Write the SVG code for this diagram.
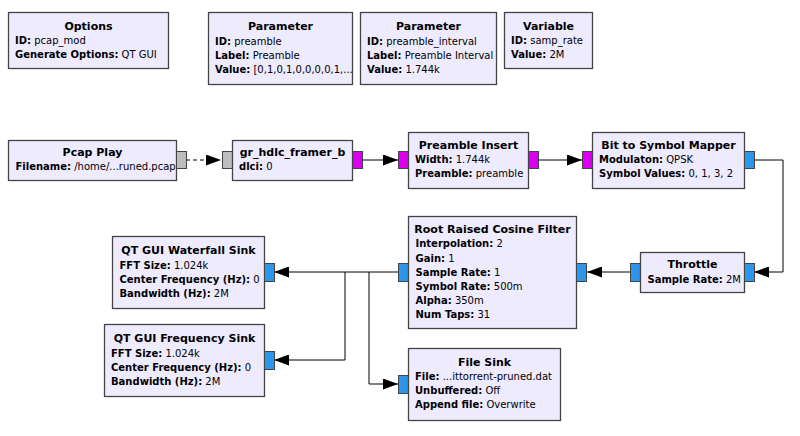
<svg xmlns="http://www.w3.org/2000/svg" width="800" height="436" viewBox="0 0 800 436">
<defs>
<style>
.blk{fill:#eeebff;stroke:#444;stroke-width:1.3}
.pm{stroke:#444;stroke-width:1}
.gray{fill:#bdbdbd}
.mag{fill:#dd00ee}
.blue{fill:#2d95ea}
text{font-family:"DejaVu Sans","Liberation Sans",sans-serif;font-size:10px;fill:#000}
.t{font-weight:bold;text-anchor:middle;font-size:11px}
.k{font-weight:bold}
.c{fill:none;stroke:#000;stroke-width:1}
.d{stroke-dasharray:4 3}
</style>
<marker id="ah" markerUnits="userSpaceOnUse" viewBox="0 0 15 11" refX="15" refY="5.5" markerWidth="15" markerHeight="11" orient="auto">
<path d="M0,0 L15,5.5 L0,11 z" fill="#000"/>
</marker>
</defs>
<rect width="800" height="436" fill="#fff"/>

<g id="connectors">
<path class="c d" d="M186,160 H221" marker-end="url(#ah)"/>
<path class="c" d="M362,160 H398" marker-end="url(#ah)"/>
<path class="c" d="M538,160 H582" marker-end="url(#ah)"/>
<path class="c" d="M754,160 H783 V272 H754" marker-end="url(#ah)"/>
<path class="c" d="M630,272 H587" marker-end="url(#ah)"/>
<path class="c" d="M398,272 H274" marker-end="url(#ah)"/>
<path class="c" d="M345,272 V360 H274" marker-end="url(#ah)"/>
<path class="c" d="M369,272 V384 H398" marker-end="url(#ah)"/>
</g>

<g id="options">
<rect class="blk" x="8.5" y="12.5" width="160" height="56"/>
<text class="t" x="88.5" y="29.5">Options</text>
<text x="15" y="44"><tspan class="k">ID:</tspan> pcap_mod</text>
<text x="15" y="58"><tspan class="k">Generate Options:</tspan> QT GUI</text>
</g>

<g id="param_preamble">
<rect class="blk" x="208.5" y="12.5" width="144" height="72"/>
<text class="t" x="280.5" y="30">Parameter</text>
<text x="215" y="45"><tspan class="k">ID:</tspan> preamble</text>
<text x="215" y="59"><tspan class="k">Label:</tspan> Preamble</text>
<text x="215" y="73"><tspan class="k">Value:</tspan> [0,1,0,1,0,0,0,0,1,...</text>
</g>

<g id="param_preamble_interval">
<rect class="blk" x="360.5" y="12.5" width="136" height="72"/>
<text class="t" x="428.5" y="30">Parameter</text>
<text x="367" y="45"><tspan class="k">ID:</tspan> preamble_interval</text>
<text x="367" y="59"><tspan class="k">Label:</tspan> Preamble Interval</text>
<text x="367" y="73"><tspan class="k">Value:</tspan> 1.744k</text>
</g>

<g id="variable_samp_rate">
<rect class="blk" x="504.5" y="12.5" width="88" height="56"/>
<text class="t" x="548.5" y="29.5">Variable</text>
<text x="511" y="44"><tspan class="k">ID:</tspan> samp_rate</text>
<text x="511" y="58"><tspan class="k">Value:</tspan> 2M</text>
</g>

<g id="pcap_play">
<rect class="blk" x="8.5" y="140.5" width="168" height="40"/>
<rect class="pm gray" x="176.5" y="151.5" width="10" height="17"/>
<text class="t" x="92.5" y="155.5">Pcap Play</text>
<text x="15.5" y="170"><tspan class="k">Filename:</tspan> /home/...runed.pcap</text>
</g>

<g id="gr_hdlc_framer_b">
<rect class="pm gray" x="222.5" y="151.5" width="10" height="17"/>
<rect class="blk" x="232.5" y="140.5" width="120" height="40"/>
<rect class="pm mag" x="352.5" y="151.5" width="10" height="17"/>
<text class="t" x="292.5" y="155.5">gr_hdlc_framer_b</text>
<text x="239" y="170"><tspan class="k">dlci:</tspan> 0</text>
</g>

<g id="preamble_insert">
<rect class="pm mag" x="398.5" y="151.5" width="10" height="17"/>
<rect class="blk" x="408.5" y="132.5" width="120" height="56"/>
<rect class="pm mag" x="528.5" y="151.5" width="10" height="17"/>
<text class="t" x="468.5" y="149">Preamble Insert</text>
<text x="415" y="163"><tspan class="k">Width:</tspan> 1.744k</text>
<text x="415" y="177"><tspan class="k">Preamble:</tspan> preamble</text>
</g>

<g id="bit_to_symbol_mapper">
<rect class="pm mag" x="582.5" y="151.5" width="10" height="17"/>
<rect class="blk" x="592.5" y="132.5" width="152" height="56"/>
<rect class="pm blue" x="744.5" y="151.5" width="10" height="17"/>
<text class="t" x="668.5" y="149">Bit to Symbol Mapper</text>
<text x="599" y="163"><tspan class="k">Modulaton:</tspan> QPSK</text>
<text x="599" y="177"><tspan class="k">Symbol Values:</tspan> 0, 1, 3, 2</text>
</g>

<g id="throttle">
<rect class="pm blue" x="630.5" y="263.5" width="10" height="18"/>
<rect class="blk" x="640.5" y="252.5" width="104" height="40"/>
<rect class="pm blue" x="744.5" y="263.5" width="10" height="18"/>
<text class="t" x="692.5" y="267.5">Throttle</text>
<text x="647.5" y="282.5"><tspan class="k">Sample Rate:</tspan> 2M</text>
</g>

<g id="root_raised_cosine_filter">
<rect class="pm blue" x="398.5" y="263.5" width="10" height="18"/>
<rect class="blk" x="408.5" y="216.5" width="168" height="112"/>
<rect class="pm blue" x="576.5" y="263.5" width="10" height="18"/>
<text class="t" x="492.5" y="232.5">Root Raised Cosine Filter</text>
<text x="415.5" y="247"><tspan class="k">Interpolation:</tspan> 2</text>
<text x="415.5" y="261.5"><tspan class="k">Gain:</tspan> 1</text>
<text x="415.5" y="275.5"><tspan class="k">Sample Rate:</tspan> 1</text>
<text x="415.5" y="289.5"><tspan class="k">Symbol Rate:</tspan> 500m</text>
<text x="415.5" y="303.5"><tspan class="k">Alpha:</tspan> 350m</text>
<text x="415.5" y="317.5"><tspan class="k">Num Taps:</tspan> 31</text>
</g>

<g id="qt_gui_waterfall_sink">
<rect class="blk" x="112.5" y="236.5" width="152" height="72"/>
<rect class="pm blue" x="264.5" y="263.5" width="10" height="18"/>
<text class="t" x="188.5" y="254">QT GUI Waterfall Sink</text>
<text x="119.5" y="268.5"><tspan class="k">FFT Size:</tspan> 1.024k</text>
<text x="119.5" y="282.5"><tspan class="k">Center Frequency (Hz):</tspan> 0</text>
<text x="119.5" y="296.5"><tspan class="k">Bandwidth (Hz):</tspan> 2M</text>
</g>

<g id="qt_gui_frequency_sink">
<rect class="blk" x="104.5" y="324.5" width="160" height="72"/>
<rect class="pm blue" x="264.5" y="351.5" width="10" height="18"/>
<text class="t" x="184.5" y="342">QT GUI Frequency Sink</text>
<text x="111" y="356.5"><tspan class="k">FFT Size:</tspan> 1.024k</text>
<text x="111" y="370.5"><tspan class="k">Center Frequency (Hz):</tspan> 0</text>
<text x="111" y="384.5"><tspan class="k">Bandwidth (Hz):</tspan> 2M</text>
</g>

<g id="file_sink">
<rect class="pm blue" x="398.5" y="375.5" width="10" height="18"/>
<rect class="blk" x="408.5" y="348.5" width="152" height="72"/>
<text class="t" x="484.5" y="366">File Sink</text>
<text x="415" y="380"><tspan class="k">File:</tspan> ...ittorrent-pruned.dat</text>
<text x="415" y="394"><tspan class="k">Unbuffered:</tspan> Off</text>
<text x="415" y="408"><tspan class="k">Append file:</tspan> Overwrite</text>
</g>
</svg>
